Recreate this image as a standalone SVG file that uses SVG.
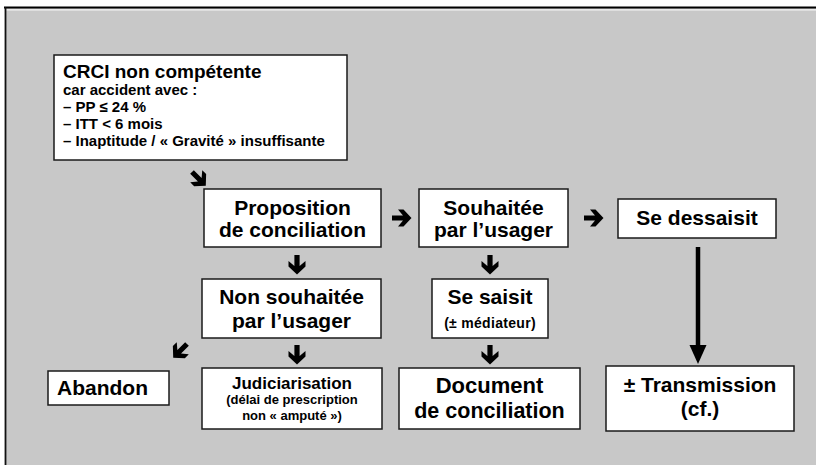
<svg xmlns="http://www.w3.org/2000/svg" width="816" height="465" viewBox="0 0 816 465">
<defs>
<style>
.box{fill:#fff;stroke:#1a1a1a;stroke-width:1.5}
.t{font-family:"Liberation Sans",Arial,sans-serif;font-weight:bold;fill:#000}
.c{text-anchor:middle}
.big{font-size:21px}
.sm{font-size:13px}
</style>
<polygon id="arr" points="0,-2.6 11,-2.6 6,-8.5 11.5,-8.5 19.5,0 11.5,8.5 6,8.5 11,2.6 0,2.6" fill="#000"/>
</defs>
<rect x="0" y="0" width="816" height="465" fill="#fff"/>
<rect x="5" y="8" width="811" height="457" fill="#c8c8c8"/>
<line x1="6" y1="9.8" x2="816" y2="9.8" stroke="#f4f4f4" stroke-width="1.2"/>
<line x1="4" y1="7.5" x2="816" y2="7.5" stroke="#000" stroke-width="2"/>
<line x1="5.5" y1="7" x2="5.5" y2="465" stroke="#111" stroke-width="1.8"/>

<g id="crci">
<rect class="box" x="54" y="55" width="293" height="105"/>
<text class="t" x="63" y="78" font-size="19">CRCI non compétente</text>
<text class="t" x="63" y="95" font-size="15">car accident avec :</text>
<text class="t" x="63" y="112" font-size="15">– PP ≤ 24 %</text>
<text class="t" x="63" y="129" font-size="15">– ITT &lt; 6 mois</text>
<text class="t" x="63" y="146" font-size="15">– Inaptitude / « Gravité » insuffisante</text>
</g>

<g id="proposition">
<rect class="box" x="204" y="189" width="177" height="58"/>
<text class="t c big" x="292.5" y="215">Proposition</text>
<text class="t c big" x="292.5" y="237">de conciliation</text>
</g>

<g id="souhaitee">
<rect class="box" x="419" y="189" width="149" height="58"/>
<text class="t c big" x="493.5" y="215">Souhaitée</text>
<text class="t c big" x="493.5" y="237">par l’usager</text>
</g>

<g id="dessaisit">
<rect class="box" x="618" y="199" width="158" height="39"/>
<text class="t c big" x="697" y="225">Se dessaisit</text>
</g>

<g id="nonsouhaitee">
<rect class="box" x="202" y="279" width="179" height="59"/>
<text class="t c big" x="291.5" y="304">Non souhaitée</text>
<text class="t c big" x="291.5" y="328">par l’usager</text>
</g>

<g id="saisit">
<rect class="box" x="432" y="279" width="116" height="59"/>
<text class="t c big" x="490" y="304">Se saisit</text>
<text class="t c" x="490" y="328" font-size="14" letter-spacing="0.3">(± médiateur)</text>
</g>

<g id="abandon">
<rect class="box" x="48" y="371" width="121" height="34"/>
<text class="t big" x="57" y="395">Abandon</text>
</g>

<g id="judiciarisation">
<rect class="box" x="202" y="368" width="180" height="61"/>
<text class="t c" x="292" y="389" font-size="17">Judiciarisation</text>
<text class="t c sm" x="292" y="404">(délai de prescription</text>
<text class="t c sm" x="292" y="420">non « amputé »)</text>
</g>

<g id="document">
<rect class="box" x="399" y="368" width="181" height="61"/>
<text class="t c" x="489.5" y="393" font-size="22">Document</text>
<text class="t c" x="489.5" y="418" font-size="21.5">de conciliation</text>
</g>

<g id="transmission">
<rect class="box" x="606" y="366" width="188" height="65"/>
<text class="t c big" x="700" y="392">± Transmission</text>
<text class="t c big" x="700" y="416">(cf.)</text>
</g>

<g id="connectors">
<use href="#arr" transform="translate(192,172) rotate(45)"/>
<use href="#arr" transform="translate(392,218)"/>
<use href="#arr" transform="translate(584,218)"/>
<use href="#arr" transform="translate(297,255) rotate(90)"/>
<use href="#arr" transform="translate(297,345) rotate(90)"/>
<use href="#arr" transform="translate(490,255) rotate(90)"/>
<use href="#arr" transform="translate(490,345) rotate(90)"/>
<use href="#arr" transform="translate(187,344) rotate(135)"/>
<line x1="698" y1="247" x2="698" y2="347" stroke="#000" stroke-width="4.5"/>
<polygon points="689.5,345 706.5,345 698,364" fill="#000"/>
</g>
</svg>
